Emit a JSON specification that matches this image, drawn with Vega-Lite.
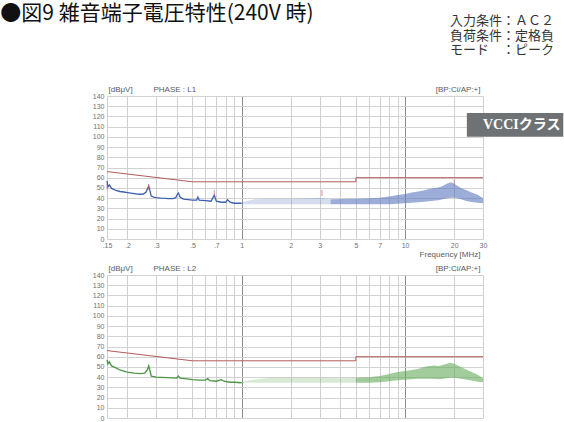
{
  "$schema": "https://vega.github.io/schema/vega-lite/v6.json",
  "background": "white",
  "padding": {"left": 0, "top": 3, "right": 0, "bottom": 0},
  "title": {"text": "●図9 雑音端子電圧特性(240V 時)", "anchor": "start", "frame": "bounds", "offset": 0, "dx": -92, "dy": 9, "fontSize": 21, "font": "Noto Sans CJK JP", "fontWeight": "normal", "color": "#111111"},
  "datasets": {
    "l1": [{"f":0.15,"v":57},{"f":0.152,"v":51},{"f":0.155,"v":53},{"f":0.16,"v":49.5},{"f":0.165,"v":48.5},{"f":0.17,"v":47.5},{"f":0.18,"v":46.5},{"f":0.19,"v":46},{"f":0.2,"v":45.5},{"f":0.21,"v":45},{"f":0.22,"v":44.5},{"f":0.23,"v":44},{"f":0.24,"v":43.8},{"f":0.25,"v":44},{"f":0.26,"v":46},{"f":0.265,"v":49},{"f":0.27,"v":52},{"f":0.275,"v":47},{"f":0.28,"v":42},{"f":0.29,"v":41},{"f":0.3,"v":40.5},{"f":0.32,"v":40},{"f":0.34,"v":39.8},{"f":0.36,"v":39.5},{"f":0.38,"v":39.5},{"f":0.395,"v":40.5},{"f":0.405,"v":44},{"f":0.41,"v":45},{"f":0.42,"v":41},{"f":0.44,"v":39},{"f":0.47,"v":38.5},{"f":0.5,"v":38},{"f":0.53,"v":38},{"f":0.54,"v":41},{"f":0.55,"v":38},{"f":0.6,"v":37.5},{"f":0.65,"v":37},{"f":0.68,"v":43},{"f":0.7,"v":37},{"f":0.75,"v":36},{"f":0.8,"v":36},{"f":0.82,"v":38.5},{"f":0.85,"v":36},{"f":0.9,"v":35},{"f":0.95,"v":35},{"f":1.0,"v":35}],
    "l1b": [{"f":1.0,"lo":34,"hi":36,"seg":"sparse"},{"f":1.2,"lo":34,"hi":39,"seg":"sparse"},{"f":1.5,"lo":34,"hi":39.5,"seg":"sparse"},{"f":2,"lo":34,"hi":39.5,"seg":"sparse"},{"f":2.5,"lo":34,"hi":40,"seg":"sparse"},{"f":3,"lo":34,"hi":40.5,"seg":"sparse"},{"f":3.5,"lo":34,"hi":39,"seg":"sparse"},
      {"f":3.5,"lo":34,"hi":39,"seg":"dense"},{"f":5,"lo":34,"hi":39.5,"seg":"dense"},{"f":6,"lo":34,"hi":40,"seg":"dense"},{"f":7,"lo":34,"hi":40.5,"seg":"dense"},{"f":8,"lo":34,"hi":41.5,"seg":"dense"},{"f":9,"lo":34.5,"hi":43,"seg":"dense"},{"f":10,"lo":35,"hi":44,"seg":"dense"},{"f":11,"lo":35.5,"hi":45.5,"seg":"dense"},{"f":12,"lo":36,"hi":46.5,"seg":"dense"},{"f":13,"lo":36.5,"hi":47.5,"seg":"dense"},{"f":14,"lo":37,"hi":49,"seg":"dense"},{"f":15,"lo":37.5,"hi":50,"seg":"dense"},{"f":16,"lo":38,"hi":50.5,"seg":"dense"},{"f":17,"lo":39,"hi":52,"seg":"dense"},{"f":18,"lo":40,"hi":54,"seg":"dense"},{"f":19,"lo":40.5,"hi":55.5,"seg":"dense"},{"f":20,"lo":40.5,"hi":54,"seg":"dense"},{"f":21,"lo":40,"hi":52,"seg":"dense"},{"f":22,"lo":39,"hi":50,"seg":"dense"},{"f":24,"lo":37,"hi":47.5,"seg":"dense"},{"f":26,"lo":36,"hi":45,"seg":"dense"},{"f":28,"lo":35.5,"hi":43,"seg":"dense"},{"f":30,"lo":35,"hi":40,"seg":"dense"}],
    "l2": [{"f":0.15,"v":57},{"f":0.152,"v":53},{"f":0.155,"v":55},{"f":0.16,"v":51},{"f":0.17,"v":49},{"f":0.18,"v":47},{"f":0.19,"v":46},{"f":0.2,"v":45},{"f":0.22,"v":44},{"f":0.24,"v":43.5},{"f":0.255,"v":44},{"f":0.265,"v":47},{"f":0.27,"v":51},{"f":0.275,"v":46},{"f":0.28,"v":41},{"f":0.3,"v":40},{"f":0.35,"v":39.5},{"f":0.4,"v":39},{"f":0.41,"v":41},{"f":0.42,"v":39},{"f":0.45,"v":38.5},{"f":0.5,"v":37.5},{"f":0.55,"v":37},{"f":0.6,"v":37},{"f":0.62,"v":38.5},{"f":0.64,"v":36.5},{"f":0.7,"v":36},{"f":0.75,"v":37.5},{"f":0.78,"v":36},{"f":0.85,"v":35},{"f":0.9,"v":35},{"f":1.0,"v":34.5}],
    "l2b": [{"f":1.0,"lo":34.5,"hi":36,"seg":"sparse"},{"f":1.5,"lo":34.5,"hi":39.5,"seg":"sparse"},{"f":2,"lo":34.5,"hi":39.5,"seg":"sparse"},{"f":3,"lo":34.5,"hi":39.5,"seg":"sparse"},{"f":4,"lo":34.5,"hi":39,"seg":"sparse"},{"f":5,"lo":34.5,"hi":39.5,"seg":"sparse"},
      {"f":5,"lo":34.5,"hi":39.5,"seg":"dense"},{"f":6,"lo":34.5,"hi":40,"seg":"dense"},{"f":7,"lo":35,"hi":41,"seg":"dense"},{"f":8,"lo":36,"hi":43,"seg":"dense"},{"f":9,"lo":37,"hi":45,"seg":"dense"},{"f":10,"lo":37.5,"hi":46,"seg":"dense"},{"f":11,"lo":38,"hi":47,"seg":"dense"},{"f":12,"lo":38.5,"hi":48,"seg":"dense"},{"f":13,"lo":38.5,"hi":50,"seg":"dense"},{"f":14,"lo":38.5,"hi":51,"seg":"dense"},{"f":15,"lo":38.5,"hi":51.5,"seg":"dense"},{"f":16,"lo":38,"hi":51,"seg":"dense"},{"f":17,"lo":38.5,"hi":52,"seg":"dense"},{"f":18,"lo":39,"hi":53,"seg":"dense"},{"f":19,"lo":39.5,"hi":54,"seg":"dense"},{"f":20,"lo":39.5,"hi":53,"seg":"dense"},{"f":22,"lo":38.5,"hi":50,"seg":"dense"},{"f":24,"lo":37.5,"hi":47,"seg":"dense"},{"f":26,"lo":36.5,"hi":44.5,"seg":"dense"},{"f":28,"lo":35.5,"hi":42,"seg":"dense"},{"f":30,"lo":35,"hi":39,"seg":"dense"}],
    "qp": [{"i":0,"f":0.15,"v":66},{"i":1,"f":0.5,"v":56},{"i":2,"f":5,"v":56},{"i":3,"f":5,"v":60},{"i":4,"f":30,"v":60}],
    "m1": [{"f":0.15,"v":51},{"f":0.27,"v":51},{"f":0.68,"v":45},{"f":3.1,"v":45},{"f":20,"v":55}],
    "badge": [{"label":"VCCIクラス"}]
  },
  "spacing": 36,
  "bounds": "flush",
  "vconcat": [
    {
      "width": 376,
      "height": 143,
      "title": {"text": ["入力条件：ＡＣ２", "負荷条件：定格負", "モード　：ピーク"], "anchor": "start", "frame": "group", "dx": 343, "offset": 15, "fontSize": 13, "lineHeight": 14.5, "font": "Noto Sans CJK JP", "fontWeight": "normal", "color": "#333333", "baseline": "bottom"},
      "resolve": {"axis": {"x": "independent", "y": "independent"}},
      "layer": [
        {
          "data": {"name": "l1"},
          "mark": {"type": "line", "color": "#3d5fae", "strokeWidth": 1.3},
          "encoding": {
            "x": {"field": "f", "type": "quantitative", "scale": {"type": "log", "domain": [0.15, 30], "nice": false},
              "axis": {"orient": "bottom", "values": [0.15,0.2,0.3,0.4,0.5,0.6,0.7,0.8,0.9,1,2,3,4,5,6,7,8,9,10,20,30], "grid": true,
                "gridColor": {"condition": {"test": "datum.value == 1 || datum.value == 10", "value": "#8c8c8c"}, "value": "#cfcfcf"},
                "labelExpr": "indexof([0.15,0.2,0.3,0.5,0.7], datum.value) >= 0 ? replace(toString(datum.value), '0.', '.') : (indexof([1,2,3,5,7,10,20,30], datum.value) >= 0 ? toString(datum.value) : '')",
                "labelPadding": 2, "labelOverlap": false, "labelFlush": false,
                "title": "Frequency [MHz]", "titleX": 373, "titleY": 15.5, "titleAlign": "right", "titleBaseline": "middle"}},
            "y": {"field": "v", "type": "quantitative", "scale": {"domain": [0, 140], "nice": false, "zero": false},
              "axis": {"orient": "left", "values": [0,10,20,30,40,50,60,70,80,90,100,110,120,130,140], "grid": true, "gridColor": "#d2d2d2", "labelPadding": 3,
                "title": "[dBμV]", "titleAngle": 0, "titleX": 1, "titleY": -7, "titleAlign": "left", "titleBaseline": "middle"}}
          }
        },
        {
          "data": {"name": "qp"},
          "mark": {"type": "line", "color": "#b35a5a", "strokeWidth": 1},
          "encoding": {
            "x": {"field": "f", "type": "quantitative", "scale": {"type": "log", "domain": [0.15, 30], "nice": false},
              "axis": {"orient": "top", "labels": false, "grid": false, "title": "PHASE : L1", "titleX": 46, "titleY": -7, "titleAlign": "left", "titleBaseline": "middle"}},
            "y": {"field": "v", "type": "quantitative", "scale": {"domain": [0, 140], "nice": false, "zero": false},
              "axis": {"orient": "right", "labels": false, "grid": false, "title": "[BP:Ci/AP:+]", "titleAngle": 0, "titleX": -3, "titleY": -7, "titleAlign": "right", "titleBaseline": "middle"}},
            "order": {"field": "i", "type": "quantitative"}
          }
        },
        {
          "data": {"name": "l1b"},
          "mark": {"type": "area", "color": "#5a78be"},
          "encoding": {
            "x": {"field": "f", "type": "quantitative", "scale": {"type": "log", "domain": [0.15, 30], "nice": false}, "axis": null},
            "y": {"field": "lo", "type": "quantitative", "scale": {"domain": [0, 140], "nice": false, "zero": false}, "axis": null},
            "y2": {"field": "hi"},
            "opacity": {"field": "seg", "type": "nominal", "scale": {"domain": ["sparse", "dense"], "range": [0.25, 0.6]}, "legend": null}
          }
        },
        {
          "data": {"name": "m1"},
          "mark": {"type": "tick", "orient": "vertical", "size": 6, "thickness": 1, "color": "#d0607a"},
          "encoding": {
            "x": {"field": "f", "type": "quantitative", "scale": {"type": "log", "domain": [0.15, 30], "nice": false}, "axis": null},
            "y": {"field": "v", "type": "quantitative", "scale": {"domain": [0, 140], "nice": false, "zero": false}, "axis": null}
          }
        },
        {
          "data": {"name": "badge"},
          "mark": {"type": "rect", "color": "#6e7274"},
          "encoding": {
            "x": {"datum": 23.9, "type": "quantitative", "scale": {"type": "log", "domain": [0.15, 30], "nice": false}, "axis": null},
            "x2": {"datum": 93},
            "y": {"datum": 123.4, "type": "quantitative", "scale": {"domain": [0, 140], "nice": false, "zero": false}, "axis": null},
            "y2": {"datum": 100}
          }
        },
        {
          "data": {"name": "badge"},
          "mark": {"type": "text", "align": "left", "baseline": "middle", "font": "Liberation Serif, Noto Sans CJK JP", "fontWeight": "bold", "fontSize": 14, "color": "white"},
          "encoding": {
            "x": {"datum": 30, "type": "quantitative", "scale": {"type": "log", "domain": [0.15, 30], "nice": false}, "axis": null},
            "y": {"datum": 111.6, "type": "quantitative", "scale": {"domain": [0, 140], "nice": false, "zero": false}, "axis": null},
            "text": {"field": "label"}
          }
        }
      ]
    },
    {
      "width": 376,
      "height": 143,
      "resolve": {"axis": {"x": "independent", "y": "independent"}},
      "layer": [
        {
          "data": {"name": "l2"},
          "mark": {"type": "line", "color": "#4c9444", "strokeWidth": 1.3},
          "encoding": {
            "x": {"field": "f", "type": "quantitative", "scale": {"type": "log", "domain": [0.15, 30], "nice": false},
              "axis": {"orient": "bottom", "values": [0.15,0.2,0.3,0.4,0.5,0.6,0.7,0.8,0.9,1,2,3,4,5,6,7,8,9,10,20,30], "grid": true,
                "gridColor": {"condition": {"test": "datum.value == 1 || datum.value == 10", "value": "#8c8c8c"}, "value": "#cfcfcf"},
                "labels": false, "title": null}},
            "y": {"field": "v", "type": "quantitative", "scale": {"domain": [0, 140], "nice": false, "zero": false},
              "axis": {"orient": "left", "values": [0,10,20,30,40,50,60,70,80,90,100,110,120,130,140], "grid": true, "gridColor": "#d2d2d2", "labelPadding": 3,
                "title": "[dBμV]", "titleAngle": 0, "titleX": 1, "titleY": -7, "titleAlign": "left", "titleBaseline": "middle"}}
          }
        },
        {
          "data": {"name": "qp"},
          "mark": {"type": "line", "color": "#b35a5a", "strokeWidth": 1},
          "encoding": {
            "x": {"field": "f", "type": "quantitative", "scale": {"type": "log", "domain": [0.15, 30], "nice": false},
              "axis": {"orient": "top", "labels": false, "grid": false, "title": "PHASE : L2", "titleX": 46, "titleY": -7, "titleAlign": "left", "titleBaseline": "middle"}},
            "y": {"field": "v", "type": "quantitative", "scale": {"domain": [0, 140], "nice": false, "zero": false},
              "axis": {"orient": "right", "labels": false, "grid": false, "title": "[BP:Ci/AP:+]", "titleAngle": 0, "titleX": -3, "titleY": -7, "titleAlign": "right", "titleBaseline": "middle"}},
            "order": {"field": "i", "type": "quantitative"}
          }
        },
        {
          "data": {"name": "l2b"},
          "mark": {"type": "area", "color": "#64aa5a"},
          "encoding": {
            "x": {"field": "f", "type": "quantitative", "scale": {"type": "log", "domain": [0.15, 30], "nice": false}, "axis": null},
            "y": {"field": "lo", "type": "quantitative", "scale": {"domain": [0, 140], "nice": false, "zero": false}, "axis": null},
            "y2": {"field": "hi"},
            "opacity": {"field": "seg", "type": "nominal", "scale": {"domain": ["sparse", "dense"], "range": [0.25, 0.6]}, "legend": null}
          }
        }
      ]
    }
  ],
  "config": {
    "view": {"stroke": null},
    "axis": {"labelFont": "Liberation Sans", "titleFont": "Liberation Sans", "labelColor": "#707070", "titleColor": "#5a5a5a", "titleFontWeight": "normal", "labelFontSize": 7, "titleFontSize": 8, "ticks": false, "domain": false}
  }
}
